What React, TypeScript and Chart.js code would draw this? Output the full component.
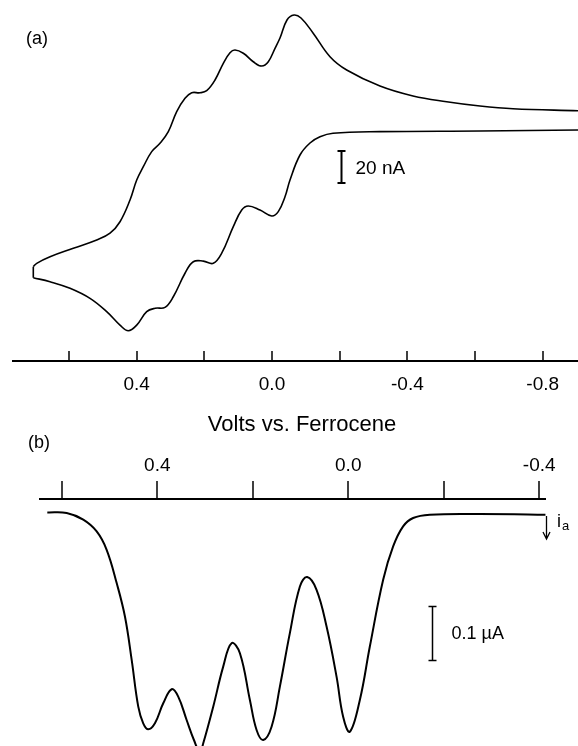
import React, { useEffect, useRef } from "react";
import { Chart, registerables } from "chart.js";
Chart.register(...registerables);

// ---------- Panel (a): cyclic voltammogram (V vs Fc, current in nA) ----------
const CV_FWD_V = [0.7054, 0.6953, 0.656, 0.5872, 0.518, 0.4787, 0.4492, 0.4196, 0.3998, 0.3803, 0.3555, 0.331, 0.3064, 0.2816, 0.2571, 0.2373, 0.2128, 0.193, 0.1684, 0.1439, 0.1241, 0.1093, 0.0848, 0.0553, 0.0304, 0.0109, -0.0089, -0.0236, -0.0443, -0.065, -0.0857, -0.1212, -0.1714, -0.2207, -0.3191, -0.4167, -0.5162, -0.6147, -0.7122, -0.9043];
const CV_FWD_I = [-84.8, -82.7, -78.6, -73.3, -68.1, -63.9, -56.7, -43.1, -30.6, -22.3, -12.9, -7.7, -0.4, 12.1, 20.4, 23.9, 23.9, 25.2, 31.9, 42.3, 48.9, 50.6, 48.6, 43.3, 40.6, 43.3, 51.7, 58.1, 69.4, 72.5, 70.6, 61.3, 46.4, 38.1, 28.1, 21.9, 18.3, 15.6, 13.9, 12.7];
const CV_REV_V = [-0.9043, -0.6147, -0.3191, -0.1803, -0.1418, -0.1123, -0.0827, -0.0532, -0.0384, -0.0186, 0.0009, 0.0355, 0.07, 0.0895, 0.1144, 0.1486, 0.1735, 0.203, 0.2326, 0.2571, 0.2917, 0.3162, 0.3457, 0.3703, 0.3998, 0.4246, 0.4492, 0.4885, 0.5378, 0.5969, 0.656, 0.7054];
const CV_REV_I = [0.6, 0, -0.4, -1.4, -3.6, -7.5, -15, -30.6, -41.1, -50.4, -53.1, -49.4, -46.9, -49.4, -59.8, -76.4, -82.7, -81.3, -81.7, -88.9, -103.6, -110.2, -110.8, -112.9, -121.3, -124.8, -121.3, -112.9, -104.6, -98.3, -94.2, -91.7];
const CV_TICKS = [0.6, 0.4, 0.2, 0, -0.2, -0.4, -0.6, -0.8];
const CV_TICK_LABELS = ["", "0.4", "", "0.0", "", "-0.4", "", "-0.8"];
const CV_X_RANGE = [-0.9043, 0.7654];
const CV_Y_RANGE = [-143.75, 81.875];
const CV_BAR = { v: -0.203, top: -12.5, size: 20, label: "20 nA" };

// ---------- Panel (b): differential pulse voltammogram (current in µA, anodic down) ----------
const DPV_V = [0.6303, 0.5897, 0.555, 0.5269, 0.506, 0.485, 0.4677, 0.4536, 0.4398, 0.4294, 0.4189, 0.4049, 0.3875, 0.3699, 0.3561, 0.3385, 0.3232, 0.3107, 0.3037, 0.2828, 0.2619, 0.2443, 0.2269, 0.206, 0.192, 0.1781, 0.1606, 0.1432, 0.1223, 0.1013, 0.086, 0.0664, 0.0454, 0.0245, 0.0107, -0.0033, -0.0243, -0.0452, -0.0731, -0.094, -0.1149, -0.1359, -0.1708, -0.2755, -0.4346];
const DPV_I = [-0.0024, -0.0013, 0.0111, 0.0328, 0.0667, 0.1283, 0.1902, 0.2704, 0.3569, 0.3876, 0.3987, 0.3876, 0.3506, 0.3246, 0.3383, 0.3815, 0.4185, 0.4407, 0.4246, 0.3569, 0.2828, 0.2394, 0.258, 0.3444, 0.4, 0.4185, 0.3939, 0.3198, 0.2209, 0.1346, 0.1172, 0.1407, 0.2087, 0.3013, 0.3754, 0.4031, 0.3444, 0.2457, 0.1222, 0.0606, 0.0235, 0.008, 0.0019, 0.0006, 0.0019];
const DPV_TICKS = [0.6, 0.4, 0.2, 0, -0.2, -0.4];
const DPV_TICK_LABELS = ["", "0.4", "", "0.0", "", "-0.4"];
const DPV_X_RANGE = [-0.413, 0.6456];
const DPV_Y_RANGE = [-0.0272, 0.4296];
const DPV_BAR = { v: -0.1763, top: 0.1717, size: 0.1, label: "0.1 \u00B5A" };

const X_TITLE = "Volts vs. Ferrocene";
const FONT = '"Liberation Sans", Arial, Helvetica, sans-serif';

const pts = (xs: number[], ys: number[]) => xs.map((x, i) => ({ x, y: ys[i] }));

function drawScaleBar(ctx: CanvasRenderingContext2D, x: number, y1: number, y2: number) {
  ctx.beginPath();
  ctx.moveTo(x, y1);
  ctx.lineTo(x, y2);
  ctx.moveTo(x - 4, y1);
  ctx.lineTo(x + 4, y1);
  ctx.moveTo(x - 4, y2);
  ctx.lineTo(x + 4, y2);
  ctx.stroke();
}

const cvDecor = {
  id: "cvDecor",
  afterDraw(chart: any) {
    const { ctx } = chart;
    const xs = chart.scales.x;
    const ys = chart.scales.y;
    ctx.save();
    ctx.strokeStyle = "#000";
    ctx.fillStyle = "#000";
    ctx.lineWidth = 1.5;
    const axisY = xs.top;
    CV_TICKS.forEach((v) => {
      const px = Math.round(xs.getPixelForValue(v));
      ctx.beginPath();
      ctx.moveTo(px, axisY);
      ctx.lineTo(px, axisY - 10);
      ctx.stroke();
    });
    const bx = Math.round(xs.getPixelForValue(CV_BAR.v)) + 0.5;
    const b1 = ys.getPixelForValue(CV_BAR.top);
    const b2 = ys.getPixelForValue(CV_BAR.top - CV_BAR.size);
    ctx.lineWidth = 2;
    drawScaleBar(ctx, bx, b1, b2);
    ctx.textBaseline = "alphabetic";
    ctx.textAlign = "left";
    ctx.font = `19px ${FONT}`;
    ctx.fillText(CV_BAR.label, bx + 14, (b1 + b2) / 2 + 7);
    ctx.font = `18px ${FONT}`;
    ctx.fillText("(a)", 26, 44);
    ctx.textAlign = "center";
    ctx.font = `22px ${FONT}`;
    ctx.fillText(X_TITLE, 302, 431);
    ctx.restore();
  },
};

const dpvDecor = {
  id: "dpvDecor",
  afterDraw(chart: any) {
    const { ctx } = chart;
    const xs = chart.scales.x;
    const ys = chart.scales.y;
    ctx.save();
    ctx.strokeStyle = "#000";
    ctx.fillStyle = "#000";
    ctx.lineWidth = 1.5;
    const axisY = xs.bottom;
    DPV_TICKS.forEach((v) => {
      const px = Math.round(xs.getPixelForValue(v));
      ctx.beginPath();
      ctx.moveTo(px, axisY);
      ctx.lineTo(px, axisY - 18);
      ctx.stroke();
    });
    const bx = Math.round(xs.getPixelForValue(DPV_BAR.v)) + 0.5;
    const b1 = ys.getPixelForValue(DPV_BAR.top);
    const b2 = ys.getPixelForValue(DPV_BAR.top + DPV_BAR.size);
    ctx.lineWidth = 1.5;
    drawScaleBar(ctx, bx, b1, b2);
    ctx.textBaseline = "alphabetic";
    ctx.textAlign = "left";
    ctx.font = `18px ${FONT}`;
    ctx.fillText(DPV_BAR.label, bx + 19, (b1 + b2) / 2 + 5);
    ctx.fillText("(b)", 28, 448);
    // i_a label with arrow
    ctx.fillText("i", 557, 527);
    ctx.font = `13px ${FONT}`;
    ctx.fillText("a", 562, 530);
    ctx.lineWidth = 1.3;
    ctx.beginPath();
    ctx.moveTo(546.5, 516);
    ctx.lineTo(546.5, 539);
    ctx.moveTo(543, 532);
    ctx.lineTo(546.5, 539);
    ctx.lineTo(550, 532);
    ctx.stroke();
    ctx.restore();
  },
};

const lineDs = (data: any[], width: number, tension = 0.4) => ({
  data,
  borderColor: "#000",
  borderWidth: width,
  pointRadius: 0,
  fill: false,
  tension,
});

export default function App() {
  const refA = useRef<HTMLCanvasElement>(null);
  const refB = useRef<HTMLCanvasElement>(null);

  useEffect(() => {
    const tickFont = { family: FONT, size: 19 };
    const chartA = new Chart(refA.current as HTMLCanvasElement, {
      type: "line",
      data: {
        datasets: [
          lineDs(pts(CV_FWD_V, CV_FWD_I), 1.6),
          lineDs(pts(CV_REV_V, CV_REV_I), 1.6),
          lineDs(pts([CV_FWD_V[0], CV_REV_V[CV_REV_V.length - 1]], [CV_FWD_I[0], CV_REV_I[CV_REV_I.length - 1]]), 1.6, 0),
        ],
      },
      options: {
        responsive: false,
        animation: false,
        devicePixelRatio: 1,
        layout: { padding: { left: 13, right: 0, top: 0, bottom: 325 } },
        plugins: { legend: { display: false }, tooltip: { enabled: false } },
        scales: {
          x: {
            type: "linear",
            position: "bottom",
            reverse: true,
            min: CV_X_RANGE[0],
            max: CV_X_RANGE[1],
            afterBuildTicks: (s: any) => {
              s.ticks = CV_TICKS.map((v) => ({ value: v }));
            },
            afterFit: (s: any) => {
              s.height = 60;
            },
            grid: { display: false, drawTicks: false },
            border: { display: true, color: "#000", width: 2 },
            ticks: {
              color: "#000",
              font: tickFont,
              padding: 12,
              maxRotation: 0,
              autoSkip: false,
              callback: (_v: any, i: number) => CV_TICK_LABELS[i],
            },
          },
          y: { type: "linear", display: false, min: CV_Y_RANGE[0], max: CV_Y_RANGE[1] },
        },
      },
      plugins: [cvDecor],
    } as any);

    const chartB = new Chart(refB.current as HTMLCanvasElement, {
      type: "line",
      data: { datasets: [lineDs(pts(DPV_V, DPV_I), 2)] },
      options: {
        responsive: false,
        animation: false,
        devicePixelRatio: 1,
        layout: { padding: { left: 40, right: 32, top: 440, bottom: 0 } },
        plugins: { legend: { display: false }, tooltip: { enabled: false } },
        scales: {
          x: {
            type: "linear",
            position: "top",
            reverse: true,
            min: DPV_X_RANGE[0],
            max: DPV_X_RANGE[1],
            afterBuildTicks: (s: any) => {
              s.ticks = DPV_TICKS.map((v) => ({ value: v }));
            },
            afterFit: (s: any) => {
              s.height = 59;
            },
            grid: { display: false, drawTicks: false },
            border: { display: true, color: "#000", width: 2 },
            ticks: {
              color: "#000",
              font: tickFont,
              padding: 22,
              maxRotation: 0,
              autoSkip: false,
              callback: (_v: any, i: number) => DPV_TICK_LABELS[i],
            },
          },
          y: { type: "linear", display: false, reverse: true, min: DPV_Y_RANGE[0], max: DPV_Y_RANGE[1] },
        },
      },
      plugins: [dpvDecor],
    } as any);

    return () => {
      chartA.destroy();
      chartB.destroy();
    };
  }, []);

  return (
    <div style={{ position: "absolute", left: 0, top: 0, width: 578, height: 746, background: "#fff", overflow: "hidden" }}>
      <canvas ref={refA} width={578} height={746} style={{ position: "absolute", left: 0, top: 0 }} />
      <canvas ref={refB} width={578} height={746} style={{ position: "absolute", left: 0, top: 0 }} />
    </div>
  );
}
